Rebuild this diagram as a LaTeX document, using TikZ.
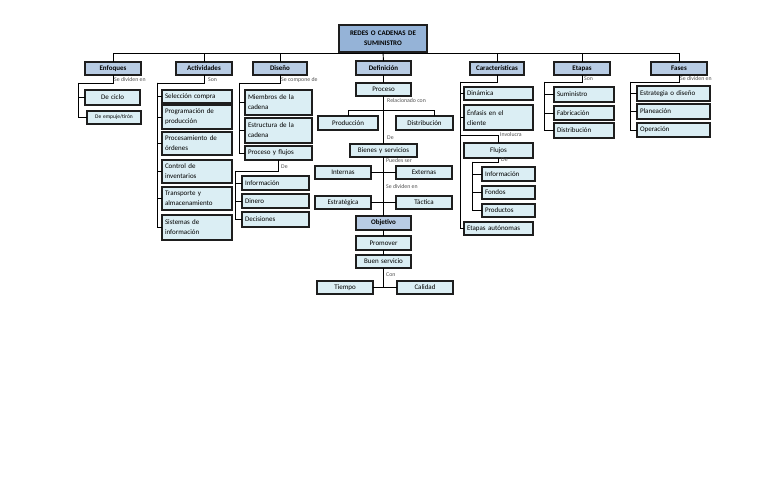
\documentclass[tikz,border=0pt]{standalone}
\usepackage{fontspec}
\setmainfont{Carlito}
\definecolor{hdrc}{HTML}{B8CCE4}
\definecolor{topc}{HTML}{95B3D7}
\definecolor{chlc}{HTML}{DBEEF4}
\definecolor{bordc}{HTML}{1E1E1E}
\definecolor{lblc}{HTML}{505050}
\newcommand\dbox[7]{%
 \pgfmathsetmacro\dbw{#5-#3}%
 \pgfmathsetmacro\dbh{#6-#4}%
 \pgfmathsetmacro\dbt{#5-#3-6}%
 \node[#1, anchor=north west, minimum width=\dbw pt, minimum height=\dbh pt, text width=\dbt pt] (#2) at (#3,#4) {#7};}
\tikzset{
 basebox/.style={draw=bordc, line width=1.2pt, inner xsep=3pt, inner ysep=0.5pt, outer sep=0pt, text=black},
 hdr/.style={basebox, fill=hdrc, align=center, font=\bfseries\fontsize{7}{9}\selectfont},
 topbox/.style={basebox, fill=topc, align=center, font=\bfseries\fontsize{7}{10}\selectfont},
 chl/.style={basebox, fill=chlc, align=left, font=\fontsize{7}{10}\selectfont},
 chc/.style={chl, align=center},
 lbl/.style={font=\fontsize{5.8}{6.5}\selectfont, text=lblc, inner sep=0pt, anchor=west},
 conn/.style={draw=black, line width=0.9pt}
}
\begin{document}
\begin{tikzpicture}[x=1pt,y=-1pt]
\useasboundingbox (0,0) rectangle (768,497);
% top
\dbox{topbox}{redes}{339}{25}{427}{52}{REDES O CADENAS DE\\SUMINISTRO}
% headers
\dbox{hdr}{enf}{85}{62}{141}{75}{Enfoques}
\dbox{hdr}{act}{176}{62}{232}{75}{Actividades}
\dbox{hdr}{dis}{253}{62}{307}{75}{Diseño}
\dbox{hdr}{def}{356}{61}{411}{75}{Definición}
\dbox{hdr}{car}{470}{62}{524}{75}{Características}
\dbox{hdr}{eta}{554}{62}{610}{75}{Etapas}
\dbox{hdr}{fas}{651}{62}{707}{75}{Fases}
% bus
\path (enf.north) ++(0,-9) coordinate (busL);
\draw[conn] (busL) -| (fas.north);
\foreach \h in {enf,act,dis,car,eta} {\draw[conn] (\h.north) -- (\h.north |- busL);}
\draw[conn] (redes.south) -- (def.north);
% Enfoques
\dbox{chc}{enf1}{85}{90}{140}{105}{De ciclo}
\dbox{chc, font=\fontsize{5.5}{6.5}\selectfont}{enf2}{87}{111}{141}{124}{De empuje/tirón}
\coordinate (enfK) at (78,83);
\draw[conn] (enf.south) |- (enfK);
\draw[conn] (enfK) |- (enf1.west);
\draw[conn] (enfK) |- (enf2.west);
\node[lbl] (enfL) at (114,80) {Se dividen en};
% Actividades
\dbox{chl}{act1}{162}{90}{232}{103}{Selección compra}
\dbox{chl}{act2}{162}{105}{232}{129}{Programación de\\producción}
\dbox{chl}{act3}{162}{132}{232}{155}{Procesamiento de\\órdenes}
\dbox{chl}{act4}{162}{160}{232}{183}{Control de\\inventarios}
\dbox{chl}{act5}{162}{187}{232}{210}{Transporte y\\almacenamiento}
\dbox{chl}{act6}{162}{215}{232}{240}{Sistemas de\\información}
\coordinate (actK) at (157,83);
\draw[conn] (act.south) |- (actK);
\foreach \c in {act1,act2,act3,act4,act5,act6} {\draw[conn] (actK) |- (\c.west);}
\node[lbl] (actL) at (208,80) {Son};
% Diseño
\dbox{chl}{dis1}{245}{90}{312}{115}{Miembros de la\\cadena}
\dbox{chl}{dis2}{245}{118}{312}{143}{Estructura de la\\cadena}
\dbox{chl}{dis3}{245}{146}{312}{160}{Proceso y flujos}
\coordinate (disK) at (239,83);
\draw[conn] (dis.south) |- (disK);
\foreach \c in {dis1,dis2,dis3} {\draw[conn] (disK) |- (\c.west);}
\node[lbl] (disL) at (281,80) {Se compone de};
\dbox{chl}{dsg1}{242}{176}{309}{190}{Información}
\dbox{chl}{dsg2}{242}{194}{309}{208}{Dinero}
\dbox{chl}{dsg3}{242}{212}{309}{227}{Decisiones}
\coordinate (dsgK) at (235,171);
\draw[conn] (dis3.south) |- (dsgK);
\foreach \c in {dsg1,dsg2,dsg3} {\draw[conn] (dsgK) |- (\c.west);}
\node[lbl] (dsgL) at (281,167) {De};
% Definición
\dbox{chc}{pro}{356}{83}{411}{96}{Proceso}
\dbox{chc}{prod}{318}{116}{378}{130}{Producción}
\dbox{chc}{dist}{396}{116}{453}{130}{Distribución}
\dbox{chc}{bys}{350}{144}{417}{157}{Bienes y servicios}
\dbox{chc}{int}{315}{166}{371}{179}{Internas}
\dbox{chc}{ext}{396}{166}{452}{179}{Externas}
\dbox{chc}{est}{315}{196}{371}{209}{Estratégica}
\dbox{chc}{tac}{396}{196}{452}{209}{Táctica}
\dbox{hdr}{obj}{356}{216}{411}{230}{Objetivo}
\dbox{chc}{prom}{356}{236}{411}{250}{Promover}
\dbox{chc}{buen}{356}{255}{411}{268}{Buen servicio}
\dbox{chc}{tie}{317}{281}{373}{294}{Tiempo}
\dbox{chc}{cal}{397}{281}{453}{294}{Calidad}
\draw[conn] (def.south) -- (pro.north);
\coordinate (relR) at (434,110);
\draw[conn] (prod.north) |- (relR) -- (relR |- dist.north);
\draw[conn] (pro.south) -- (bys.north);
\draw[conn] (bys.south) -- (obj.north);
\draw[conn] (int.east) -- (ext.west);
\draw[conn] (est.east) -- (tac.west);
\draw[conn] (obj.south) -- (prom.north);
\draw[conn] (prom.south) -- (buen.north);
\draw[conn] (buen.south) -- (buen.south |- tie.east);
\draw[conn] (tie.east) -- (cal.west);
\node[lbl] (defL1) at (387,101) {Relacionado con};
\node[lbl] (defL2) at (387,138) {De};
\node[lbl] (defL3) at (386,161) {Puedes ser};
\node[lbl] (defL4) at (386,187) {Se dividen en};
\node[lbl] (defL5) at (386,275) {Con};
% Características
\dbox{chl}{car1}{464}{87}{533}{100}{Dinámica}
\dbox{chl}{car2}{464}{105}{533}{130}{Énfasis en el\\cliente}
\dbox{chc}{flu}{464}{143}{533}{158}{Flujos}
\dbox{chl}{car4}{464}{222}{533}{235}{Etapas autónomas}
\dbox{chl}{flu1}{482}{167}{535}{181}{Información}
\dbox{chl}{flu2}{482}{186}{535}{199}{Fondos}
\dbox{chl}{flu3}{482}{204}{535}{217}{Productos}
\coordinate (carK) at (460,82);
\coordinate (carF) at (460,135);
\draw[conn] (car.south) |- (carK);
\foreach \c in {car1,car2,car4} {\draw[conn] (carK) |- (\c.west);}
\draw[conn] (carF) -| (flu.north);
\coordinate (fluK) at (472,162);
\draw[conn] (flu.south) |- (fluK);
\foreach \c in {flu1,flu2,flu3} {\draw[conn] (fluK) |- (\c.west);}
\node[lbl] (carL1) at (500,135) {Involucra};
\node[lbl] (carL2) at (501,160) {De};
% Etapas
\dbox{chl}{eta1}{554}{87}{614}{102}{Suministro}
\dbox{chl}{eta2}{554}{106}{614}{120}{Fabricación}
\dbox{chl}{eta3}{554}{123}{614}{138}{Distribución}
\coordinate (etaK) at (544,82);
\draw[conn] (eta.south) |- (etaK);
\foreach \c in {eta1,eta2,eta3} {\draw[conn] (etaK) |- (\c.west);}
\node[lbl] (etaL) at (584,79) {Son};
% Fases
\dbox{chl}{fas1}{637}{86}{710}{101}{Estrategia o diseño}
\dbox{chl}{fas2}{637}{104}{710}{119}{Planeación}
\dbox{chl}{fas3}{637}{123}{710}{137}{Operación}
\coordinate (fasK) at (630,82);
\draw[conn] (fas.south) |- (fasK);
\foreach \c in {fas1,fas2,fas3} {\draw[conn] (fasK) |- (\c.west);}
\node[lbl] (fasL) at (680,79) {Se dividen en};
\end{tikzpicture}
\end{document}
